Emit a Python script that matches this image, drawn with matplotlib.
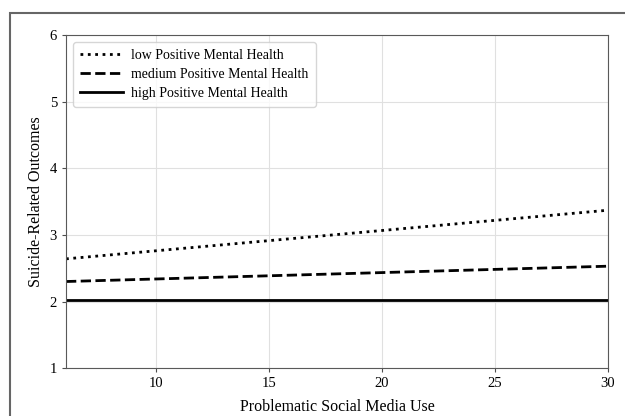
import matplotlib.pyplot as plt
from matplotlib.patches import Rectangle

plt.rcParams['font.family'] = ['Liberation Serif', 'DejaVu Serif']

x = [6, 30]
low = [2.64, 3.37]
medium = [2.30, 2.53]
high = [2.03, 2.03]
labels = ['low Positive Mental Health', 'medium Positive Mental Health', 'high Positive Mental Health']

fig = plt.figure(figsize=(6.25, 4.16), dpi=100)
ax = fig.add_axes([0.1056, 0.115, 0.867, 0.801])

ax.plot(x, low, color='black', linestyle=':', linewidth=2, label=labels[0])
ax.plot(x, medium, color='black', linestyle='--', linewidth=2, label=labels[1])
ax.plot(x, high, color='black', linestyle='-', linewidth=2, label=labels[2])

ax.set_xlim(6, 30)
ax.set_ylim(1, 6)
ax.set_xticks([10, 15, 20, 25, 30])
ax.set_yticks([1, 2, 3, 4, 5, 6])
ax.tick_params(labelsize=10.5, length=3, color='0.3')
ax.grid(True, color='0.88', linewidth=0.8)
for s in ax.spines.values():
    s.set_color('0.35')
ax.set_xlabel('Problematic Social Media Use', fontsize=11.5, labelpad=6)
ax.set_ylabel('Suicide-Related Outcomes', fontsize=11.5)
ax.legend(loc='upper left', fontsize=10, handlelength=3.1, handletextpad=0.6,
          framealpha=0.8, borderpad=0.5, labelspacing=0.45)

# outer frame
fig.patches.append(Rectangle((10 / 625, -0.1), 1.2, 1 - 13 / 416 + 0.1,
                             transform=fig.transFigure, fill=False,
                             edgecolor='0.4', linewidth=1.5))

plt.savefig('out.png', dpi=100)
